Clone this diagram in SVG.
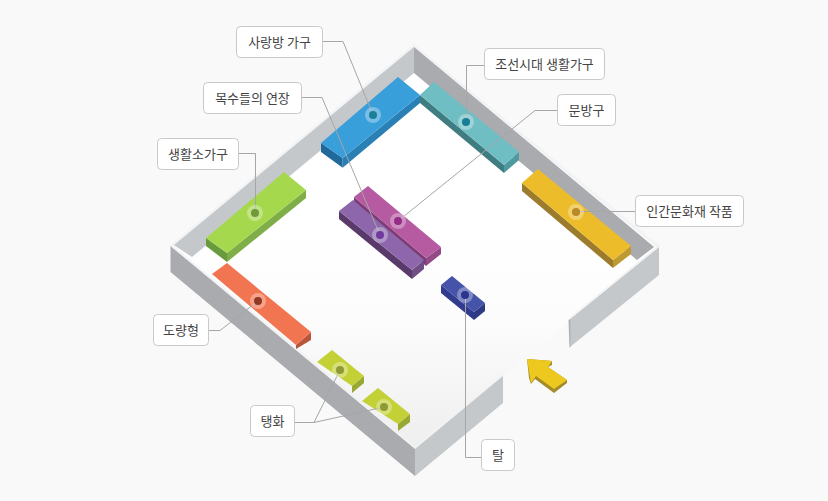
<svg xmlns="http://www.w3.org/2000/svg" width="828" height="501" viewBox="0 0 828 501">
<style>
.lbl rect{fill:#fff;stroke:#c9c9c9;stroke-width:1}
.lbl text{font-family:"Noto Sans CJK KR","Noto Sans",sans-serif;font-size:13px;fill:#444;text-anchor:middle}
.halo{fill:#fff;fill-opacity:.32}
#connectors path{fill:none;stroke:#a6a6a6;stroke-width:1}
.wl{fill:#c5c8cb}.wd{fill:#a9abaf}
</style>
<defs>
<linearGradient id="fl" gradientUnits="userSpaceOnUse" x1="0" y1="220" x2="0" y2="450">
<stop offset="0" stop-color="#fff"/><stop offset=".45" stop-color="#fcfcfc"/><stop offset="1" stop-color="#eeeeee"/>
</linearGradient>
</defs>
<rect width="828" height="501" fill="#f9f9f9"/>
<g id="room">
<polygon points="170,246 173,243 414,44 660,246 658,248 414,48 173,246" fill="#f2f3f5"/>
<polygon points="173,246 192,257 414,73 637,260 655,247 659,248 415,449" fill="url(#fl)"/>
<polygon class="wl" points="174,245 414,47 414,73 192,257"/>
<polygon class="wd" points="414,47 654,247 637,260 414,73"/>
<polygon class="wd" points="170.500,246 415,449 415,476 170.500,272"/>
<polyline points="172,246 415,447 503,375" fill="none" stroke="#f1f2f3" stroke-width="2"/>
<polygon class="wl" points="415,449 503,376 503,403 415,476"/>
<polygon class="wl" points="569,320 659,247 659,275 570,347"/>
<polygon points="568.500,320 570.500,319 570.500,347 569.500,347.500" fill="#aeb1b4"/>
<line x1="570" y1="318" x2="659" y2="246" stroke="#f1f2f3" stroke-width="1.500"/>
</g>
<g id="arrow">
<polygon points="552,361 552,365 548,367 567,380 567,383 554,393 535,379 531,384 529,378 527,359" fill="#a58c28"/>
<polygon points="527,359 552,361 548,367 567,380 554,389 536,376 531,383" fill="#edc91f"/>
</g>
<g id="node-sarangbang">
<polygon points="321,143 342.700,158 342.700,167.700 321,152" fill="#1f6a9a"/>
<polygon points="342.700,158 420,95 420,103 342.700,167.700" fill="#2a80b5"/>
<polygon points="321,143 398,77 420,95 342.700,158" fill="#399fdb"/>
</g>
<g id="node-joseon">
<polygon points="420,95 504,165 504,173 420,103" fill="#3f7d80"/>
<polygon points="504,165 519,152 519,160 504,173" fill="#4f9aa0"/>
<polygon points="420,95 434,82 519,152 504,165" fill="#6fbec3"/>
</g>
<g id="node-human">
<polygon points="522,183 613,260 613,268 522,191" fill="#9c7c2c"/>
<polygon points="613,260 631,246 631,254 613,268" fill="#bf9a30"/>
<polygon points="522,183 538,169 631,246 613,260" fill="#ecbc2a"/>
</g>
<g id="node-living">
<polygon points="206,238 227,253 227,262 206,246" fill="#6a9a3e"/>
<polygon points="227,253 306,190 306,198 227,262" fill="#7fae48"/>
<polygon points="206,238 284,172 306,190 227,253" fill="#a5d84c"/>
</g>
<g id="node-measure">
<polygon points="296,345 311,332 311,340 296,349" fill="#b9553a"/>
<polygon points="212,274 227,263 311,332 296,345" fill="#f27551"/>
</g>
<g id="node-taenghwa">
<polygon points="352,386 364,376 364,383 352,393" fill="#98a832"/>
<polygon points="317,362 332,350 364,376 352,386" fill="#c3d136"/>
<polygon points="398,424 410,414 410,422 398,431" fill="#98a832"/>
<polygon points="362,401 378,388 410,414 398,424" fill="#c3d136"/>
</g>
<g id="node-stationery">
<polygon points="354,197 426,258 426,266 354,203" fill="#7e3c74"/>
<polygon points="426,258 441,247 441,254 426,266" fill="#944a86"/>
<polygon points="354,197 368,186 441,247 426,258" fill="#b65aa2"/>
</g>
<g id="node-carpenter">
<polygon points="339,211 412,270 412,279 339,219" fill="#5a3a6a"/>
<polygon points="412,270 424,260 424,269 412,279" fill="#6f4d85"/>
<polygon points="339,211 353,200 424,260 412,270" fill="#8d66ac"/>
</g>
<g id="node-mask">
<polygon points="441,285 474,312 474,320 441,293" fill="#323c8e"/>
<polygon points="474,312 485,303 485,311 474,320" fill="#2f3a85"/>
<polygon points="441,285 452,276 485,303 474,312" fill="#4553a8"/>
</g>
<g id="connectors">
<path d="M323 41.500H343L373 115"/>
<path d="M302 97.500H322L380 235"/>
<path d="M239 153.500H255.500V213"/>
<path d="M484 65.500H466.500V122"/>
<path d="M557 110.500H535L398 221"/>
<path d="M635 211.500H576"/>
<path d="M209 330.500H220L258 301"/>
<path d="M295 422.500H314L340 370M314 422.500L384 407"/>
<path d="M481 457.500H465.500V295"/>
</g>
<g id="dots">
<circle class="halo" cx="373" cy="115" r="8"/><circle cx="373" cy="115" r="4" fill="#1b7f99"/>
<circle class="halo" cx="466" cy="122" r="8"/><circle cx="466" cy="122" r="4" fill="#167f96"/>
<circle class="halo" cx="576" cy="212" r="8"/><circle cx="576" cy="212" r="4" fill="#b98a26"/>
<circle class="halo" cx="255" cy="213" r="8"/><circle cx="255" cy="213" r="4" fill="#6f9a3c"/>
<circle class="halo" cx="398" cy="221" r="8"/><circle cx="398" cy="221" r="4" fill="#952c85"/>
<circle class="halo" cx="380" cy="235" r="8"/><circle cx="380" cy="235" r="4" fill="#6f3a9e"/>
<circle class="halo" cx="258" cy="301" r="8"/><circle cx="258" cy="301" r="4" fill="#8e3a24"/>
<circle class="halo" cx="340" cy="370" r="8"/><circle cx="340" cy="370" r="4" fill="#8e9a38"/>
<circle class="halo" cx="384" cy="407" r="8"/><circle cx="384" cy="407" r="4" fill="#8e9a38"/>
<circle class="halo" cx="465" cy="295" r="8"/><circle cx="465" cy="295" r="4" fill="#2a358f"/>
</g>
<g id="label-sarangbang" class="lbl"><rect x="236.500" y="26.500" width="86" height="31" rx="4"/><text x="279.500" y="46.500">사랑방 가구</text></g>
<g id="label-carpenter" class="lbl"><rect x="203.500" y="82.500" width="98" height="31" rx="4"/><text x="252.500" y="102.500">목수들의 연장</text></g>
<g id="label-living" class="lbl"><rect x="157.500" y="138.500" width="81" height="31" rx="4"/><text x="198" y="158.500">생활소가구</text></g>
<g id="label-joseon" class="lbl"><rect x="484.500" y="48.500" width="120" height="31" rx="4"/><text x="544.500" y="68.500">조선시대 생활가구</text></g>
<g id="label-stationery" class="lbl"><rect x="557.500" y="94.500" width="58" height="31" rx="4"/><text x="586.500" y="114.500">문방구</text></g>
<g id="label-human" class="lbl"><rect x="635.500" y="195.500" width="108" height="31" rx="4"/><text x="689.500" y="215.500">인간문화재 작품</text></g>
<g id="label-measure" class="lbl"><rect x="153.500" y="314.500" width="55" height="31" rx="4"/><text x="181" y="334.500">도량형</text></g>
<g id="label-taenghwa" class="lbl"><rect x="250.500" y="405.500" width="44" height="31" rx="4"/><text x="272.500" y="425.500">탱화</text></g>
<g id="label-mask" class="lbl"><rect x="481.500" y="439.500" width="33" height="31" rx="4"/><text x="498" y="459.500">탈</text></g>
</svg>
